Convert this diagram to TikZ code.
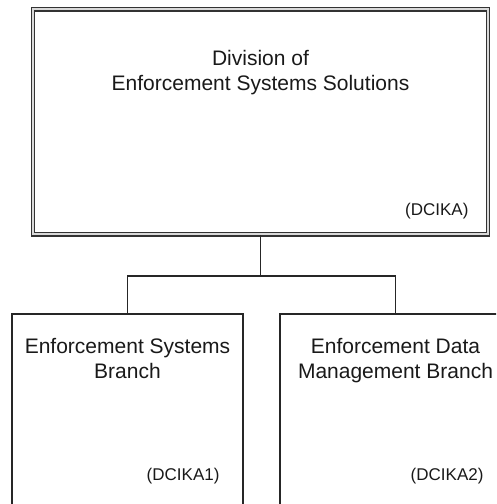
\documentclass[tikz,border=0pt]{standalone}
\usepackage{fontspec}
\setmainfont{Liberation Sans}
\begin{document}
\begin{tikzpicture}[x=1pt,y=-1pt,
    unitbox/.style={draw=black!85, line width=1.6pt, rectangle, minimum width=231pt, minimum height=212pt, inner sep=0pt},
    headbox/.style={draw=black!80, line width=1.3pt, double=gray!30, double distance=2.2pt, rectangle, minimum width=455pt, minimum height=225pt, inner sep=0pt},
    title/.style={anchor=base, align=center, text=black!90, font=\fontsize{21}{25}\selectfont},
    code/.style={anchor=base east, text=black!90, font=\fontsize{17}{20}\selectfont},
    link/.style={draw=black!85, line width=1.6pt}]
    \useasboundingbox (0,0) rectangle (496,504);
    \clip (0,0) rectangle (496,504);
    \node[headbox] (dcika) at (260.5,121.75) {};
    \node[unitbox] (esb) at (127.5,420) {};
    \node[unitbox] (edmb) at (395.5,420) {};
    % base of a two-line node sits on its last line
    \node[title] (dcikaname) at (260.5,90) {Division of\\Enforcement Systems Solutions};
    \node[code] (dcikacode) at (472,215) {(DCIKA)};
    \node[title] (esbname) at (127.5,378) {Enforcement Systems\\Branch};
    \node[code] (esbcode) at (223,480) {(DCIKA1)};
    \node[title] (edmbname) at (395.5,378) {Enforcement Data\\Management Branch};
    \node[code] (edmbcode) at (487,480) {(DCIKA2)};
    \coordinate (split) at (dcika.south |- 0,276);
    \draw[link] (dcika.south) -- (split);
    \draw[link] (split) -| (esb.north);
    \draw[link] (split) -| (edmb.north);
\end{tikzpicture}
\end{document}
